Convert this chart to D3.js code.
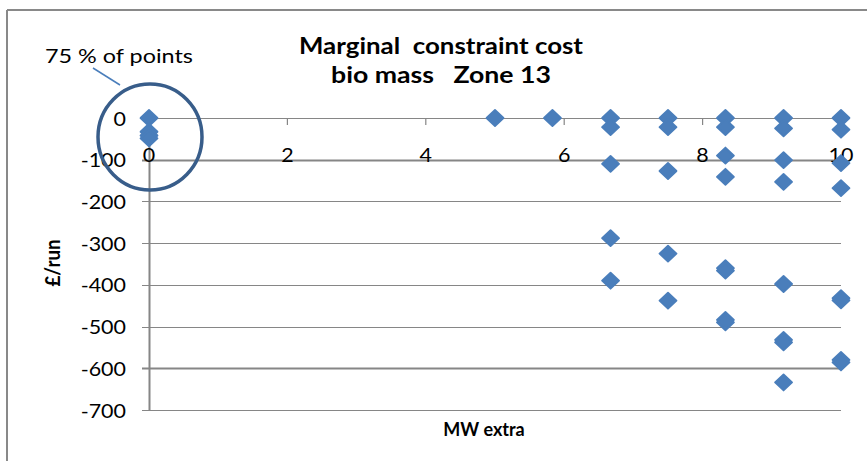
<!DOCTYPE html>
<html>
<head>
<meta charset="utf-8">
<script src="https://cdn.jsdelivr.net/npm/d3@7"></script>
<style>
  html, body { margin: 0; padding: 0; background: #fff; }
  svg { display: block; }
  text { font-family: Lato, "Liberation Sans", sans-serif; fill: #000; }
</style>
</head>
<body>
<div id="chart"></div>
<script>
// ---- data ----
const mwExtra = [
  0, 0, 0, 0,
  5,
  5.83,
  6.67, 6.67, 6.67, 6.67, 6.67,
  7.5, 7.5, 7.5, 7.5, 7.5,
  8.33, 8.33, 8.33, 8.33, 8.33, 8.33, 8.33, 8.33,
  9.17, 9.17, 9.17, 9.17, 9.17, 9.17, 9.17, 9.17,
  10, 10, 10, 10, 10, 10, 10, 10
];
const costPerRun = [
  0, -33, -42, -49,
  0,
  0,
  0, -22, -110, -288, -390,
  0, -22, -127, -325, -438,
  0, -22, -90, -141, -360, -366, -484, -490,
  0, -25, -101, -153, -398, -532, -538, -634,
  0, -28, -108, -168, -432, -437, -580, -586
];
const xTicks = [0, 2, 4, 6, 8, 10];
const yTicks = [0, -100, -200, -300, -400, -500, -600, -700];
const titleLines = ["Marginal  constraint cost", "bio mass   Zone 13"];
const xTitle = "MW extra";
const yTitle = "£/run";
const annotation = "75 % of points";

// ---- layout ----
const W = 867, H = 461;
const svg = d3.select("#chart").append("svg").attr("width", W).attr("height", H);

const x = d3.scaleLinear().domain([0, 10]).range([149, 841]);
const y = d3.scaleLinear().domain([0, -700]).range([118, 410]);

// stretch text horizontally (reference glyphs are wider than available fonts)
function stretch(sel, k) {
  sel.each(function () {
    const w = this.getComputedTextLength();
    d3.select(this).attr("textLength", w * k).attr("lengthAdjust", "spacingAndGlyphs");
  });
}
function fitTo(sel, widths) {
  sel.each(function (d, i) {
    d3.select(this).attr("textLength", widths[i]).attr("lengthAdjust", "spacingAndGlyphs");
  });
}

// outer frame (top and left visible)
svg.append("line").attr("x1", 7).attr("x2", W).attr("y1", 10).attr("y2", 10)
  .attr("stroke", "#898989").attr("stroke-width", 2);
svg.append("line").attr("x1", 7).attr("x2", 7).attr("y1", 10).attr("y2", H)
  .attr("stroke", "#898989").attr("stroke-width", 2);

// horizontal gridlines
svg.append("g").selectAll("line").data(yTicks).join("line")
  .attr("x1", 142).attr("x2", x(10))
  .attr("y1", d => Math.round(y(d)) + 0.5).attr("y2", d => Math.round(y(d)) + 0.5)
  .attr("stroke", "#868686")
  .attr("stroke-width", d => (d === -100 || d === -600) ? 2 : 1.2);

// vertical axis line
svg.append("line").attr("x1", x(0) + 0.5).attr("x2", x(0) + 0.5)
  .attr("y1", y(0)).attr("y2", y(-700))
  .attr("stroke", "#868686").attr("stroke-width", 2);

// x tick marks hanging from zero line
svg.append("g").selectAll("line").data(xTicks).join("line")
  .attr("x1", d => x(d)).attr("x2", d => x(d))
  .attr("y1", y(0)).attr("y2", y(0) + 7)
  .attr("stroke", "#868686").attr("stroke-width", 1.2);

// y tick labels
svg.append("g").selectAll("text").data(yTicks).join("text")
  .attr("x", 126).attr("y", d => y(d))
  .attr("text-anchor", "end").attr("dominant-baseline", "central")
  .style("font-size", "19px")
  .text(d => d)
  .call(stretch, 1.13);

// x tick labels
svg.append("g").selectAll("text").data(xTicks).join("text")
  .attr("x", d => x(d)).attr("y", 162)
  .attr("text-anchor", "middle")
  .style("font-size", "19px")
  .text(d => d)
  .call(stretch, 1.13);

// title
svg.append("g").selectAll("text").data(titleLines).join("text")
  .attr("x", 441).attr("y", (d, i) => 54 + i * 29)
  .attr("text-anchor", "middle")
  .style("font-size", "22px").style("font-weight", "bold")
  .style("white-space", "pre")
  .text(d => d)
  .call(fitTo, [284, 220]);

// axis titles
svg.append("text").attr("x", 484).attr("y", 436).attr("text-anchor", "middle")
  .style("font-size", "18px").style("font-weight", "bold").text(xTitle);
svg.append("text").attr("transform", "translate(60,263) rotate(-90)")
  .attr("text-anchor", "middle")
  .style("font-size", "20px").style("font-weight", "bold").text(yTitle)
  .call(fitTo, [47]);

// points (diamonds)
const pts = mwExtra.map((v, i) => ({ x: v, y: costPerRun[i] }));
svg.append("g").selectAll("path").data(pts).join("path")
  .attr("d", "M0,-8 L8.5,0 L0,8 L-8.5,0 Z")
  .attr("transform", d => `translate(${x(d.x)},${y(d.y)})`)
  .attr("fill", "#4a7ebb")
  .attr("stroke", "#4a7ebb").attr("stroke-width", 1.8).attr("stroke-linejoin", "round");

// annotation circle + leader + text
svg.append("ellipse").attr("cx", 150).attr("cy", 137).attr("rx", 52).attr("ry", 53)
  .attr("fill", "none").attr("stroke", "#385d8a").attr("stroke-width", 3.5);
svg.append("line").attr("x1", 93).attr("y1", 68).attr("x2", 120).attr("y2", 85)
  .attr("stroke", "#4a7ebb").attr("stroke-width", 1.5);
svg.append("text").attr("x", 45).attr("y", 63)
  .style("font-size", "20px").text(annotation)
  .call(fitTo, [148]);
</script>
</body>
</html>
